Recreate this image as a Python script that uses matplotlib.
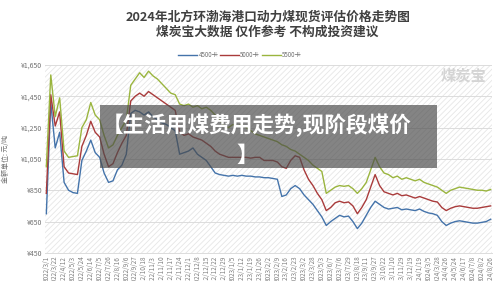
import numpy as np
import matplotlib
matplotlib.use("Agg")
import matplotlib.pyplot as plt
from matplotlib.patches import Rectangle
from matplotlib.lines import Line2D

plt.rcParams['font.family'] = ['Noto Sans CJK SC', 'DejaVu Sans']
plt.rcParams['hatch.linewidth'] = 0.6

# 横轴日期标签(每两个数据点一个标签)
tick_dates = ['2022/3/1', '2022/3/22', '2022/4/12', '2022/5/3', '2022/5/24', '2022/6/14',
              '2022/7/5', '2022/7/26', '2022/8/16', '2022/9/6', '2022/9/27', '2022/10/18',
              '2022/11/3', '2022/11/10', '2022/11/17', '2022/11/24', '2022/12/1', '2022/12/8',
              '2022/12/15', '2022/12/22', '2022/12/29', '2023/1/5', '2023/1/12', '2023/1/19',
              '2023/1/26', '2023/2/2', '2023/2/9', '2023/2/16', '2023/2/23', '2023/3/2',
              '2023/3/28', '2023/5/3', '2023/6/7', '2023/7/6', '2023/7/29', '2023/8/18',
              '2023/9/11', '2023/9/27', '2023/10/22', '2023/11/10', '2023/11/29', '2023/12/19',
              '2024/1/19', '2024/3/5', '2024/3/28', '2024/4/26', '2024/5/24', '2024/6/17',
              '2024/7/8', '2024/8/2', '2024/8/26']

# 价格 (元/吨)
price_4500 = [700, 1410, 1120, 1220, 900, 850, 835, 830, 1040, 1100,
              1170, 1090, 1060, 960, 900, 910, 980, 1010, 1080, 1340,
              1360, 1350, 1330, 1350, 1320, 1300, 1280, 1270, 1250, 1230,
              1080, 1090, 1100, 1120, 1080, 1060, 1040, 1000, 960, 950,
              945, 940, 945, 940, 945, 940, 940, 935, 935, 930,
              930, 925, 920, 810, 820, 860, 880, 860, 820, 790,
              760, 720, 680, 625, 650, 670, 690, 680, 685, 650,
              605, 640, 690, 740, 780, 760, 740, 730, 735, 740,
              725, 730, 725, 720, 730, 715, 705, 700, 690, 650,
              625, 640, 650, 655, 650, 645, 640, 640, 645, 650,
              665]
price_5000 = [830, 1460, 1260, 1350, 1000, 960, 955, 950, 1130, 1200,
              1290, 1220, 1190, 1080, 1000, 1020, 1090, 1150, 1200, 1420,
              1450, 1470, 1450, 1480, 1460, 1440, 1420, 1400, 1380, 1360,
              1220, 1200, 1210, 1190, 1180, 1170, 1150, 1130, 1100, 1080,
              1070, 1060, 1060, 1060, 1060, 1060, 1055, 1060, 1060, 1040,
              1040, 1040, 1030, 1000, 990, 1040, 1070, 1060, 980, 920,
              880, 830, 790, 720, 740, 770, 780, 770, 775, 750,
              700, 740, 790, 870, 950, 880, 840, 830, 820, 830,
              815, 820, 810, 800, 810, 800, 790, 780, 775, 740,
              720, 735, 745, 750, 745, 740, 735, 735, 740, 745,
              750]
price_5500 = [1000, 1586, 1320, 1440, 1100, 1060, 1065, 1070, 1250, 1300,
              1410, 1330, 1300, 1200, 1120, 1140, 1200, 1250, 1300, 1520,
              1560, 1600, 1570, 1610, 1580, 1560, 1530, 1500, 1470, 1460,
              1400, 1390, 1400, 1380, 1390, 1370, 1380, 1360, 1330, 1300,
              1260, 1250, 1270, 1260, 1270, 1250, 1230, 1210, 1200, 1190,
              1180, 1170, 1160, 1140, 1130, 1110, 1100, 1080, 1060, 1040,
              1010, 990, 970, 830, 850, 870, 880, 875, 880, 860,
              830, 860, 900, 980, 1060, 1000, 960, 950, 930, 940,
              920, 930, 920, 910, 920, 900, 890, 880, 870, 850,
              830, 850, 860, 870, 865, 860, 855, 850, 850, 845,
              855]

series_names = ['4500卡', '5000卡', '5500卡']
series_colors = ['#4473aa', '#a93b3b', '#9ab53e']
y_ticks = [450, 650, 850, 1050, 1250, 1450, 1650]

fig = plt.figure(figsize=(5, 2.81), dpi=100)
fig.patch.set_facecolor('white')
ax = fig.add_axes([0.09, 0.1, 0.894, 0.669])

# 斜线底纹
ax.add_patch(Rectangle((0, 0), 1, 1, transform=ax.transAxes, facecolor='white',
                       edgecolor='#e6e6e6', hatch='//////', linewidth=0, zorder=0))

x = np.arange(len(price_4500))
for vals, name, col in zip([price_4500, price_5000, price_5500], series_names, series_colors):
    ax.plot(x, vals, color=col, lw=1.0, label=name, zorder=3)

ax.set_xlim(-0.3, len(x) - 0.7)
ax.set_ylim(450, 1650)
ax.set_yticks(y_ticks)
ax.set_yticklabels(['¥{:,}'.format(v) for v in y_ticks], fontsize=5, color='#707070')
ax.set_xticks(x[::2])
ax.set_xticklabels(tick_dates, rotation=90, fontsize=4.6, color='#808080')
ax.tick_params(length=0, pad=2)
ax.grid(axis='y', color='#dcdcdc', lw=0.7, zorder=1)
for s in ['left', 'right', 'top']:
    ax.spines[s].set_visible(False)
ax.spines['bottom'].set_color('#dcdcdc')
ax.spines['bottom'].set_linewidth(0.7)

ax.set_ylabel('金额单位: 元/吨', fontsize=5, color='#707070', labelpad=8)

# 标题
fig.text(0.537, 0.94, '2024年北方环渤海港口动力煤现货评估价格走势图', ha='center', va='center',
         fontsize=9.2, fontweight='bold', color='#404040')
fig.text(0.535, 0.886, '煤炭宝大数据 仅作参考 不构成投资建议', ha='center', va='center',
         fontsize=9.2, fontweight='bold', color='#404040')

handles = [Line2D([0], [0], color=c, lw=1.0) for c in series_colors]
fig.legend(handles, series_names, loc='center', bbox_to_anchor=(0.48, 0.804), ncol=3,
           fontsize=4.5, frameon=False, handlelength=3.0, handletextpad=0.2,
           columnspacing=0.3, labelcolor='#707070')

# 水印
fig.text(0.928, 0.73, '煤炭宝', ha='center', va='center', fontsize=11,
         color='#d4d4d4', fontweight='bold', style='italic')

# 遮罩文字框
fig.patches.append(Rectangle((100 / 500, 1 - 168 / 281), 337 / 500, 63 / 281,
                             transform=fig.transFigure, facecolor='#4a4a4a',
                             alpha=0.68, zorder=10))
fig.text(102 / 500, 1 - 125 / 281, '【生活用煤费用走势,现阶段煤价', ha='left', va='center',
         fontsize=15.6, fontweight='bold', color='white', zorder=11)
fig.text(236 / 500, 1 - 155 / 281, '】', ha='left', va='center',
         fontsize=15.6, fontweight='bold', color='white', zorder=11)

fig.savefig('out.png', dpi=100)
